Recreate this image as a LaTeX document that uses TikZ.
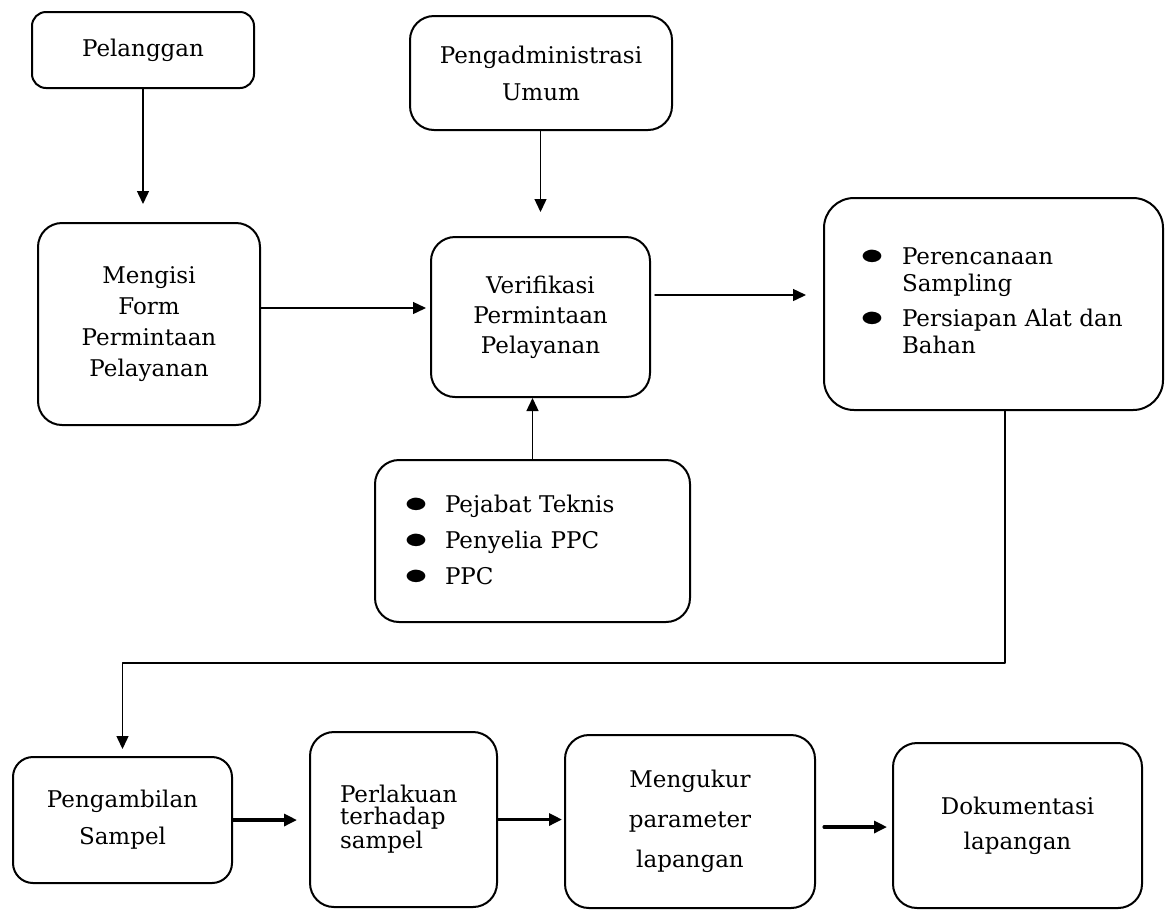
\documentclass[tikz,border=0pt]{standalone}
\usepackage{fontspec}
\setmainfont{DejaVu Serif}
\usepackage{graphicx}
\usetikzlibrary{arrows.meta}
\newcommand{\blt}{\scalebox{2.0}[1.35]{$\bullet$}}
\tikzset{
	kotak/.style={draw, line width=1pt, rounded corners=12pt, align=center, inner sep=0pt},
	daftar/.style={kotak, align=left},
}
\begin{document}
\begin{tikzpicture}[x=0.5pt, y=-0.5pt, >={Triangle[length=6.5pt,width=6pt]}, font=\fontsize{11.5}{15}\selectfont, line join=round, line cap=round]
	\def\tipis{0.7pt} \def\tebal{1.6pt} % tebal garis panah
	\useasboundingbox (0,0) rectangle (1165,911);
	
	% baris atas
	\node[kotak, rounded corners=7pt, minimum width=111pt, minimum height=38pt] (pel) at (143,50) {Pelanggan};
	\node[kotak, minimum width=131pt, minimum height=57pt, font=\fontsize{11.5}{18.5}\selectfont] (adm) at (541,73) {Pengadministrasi\\Umum};
	\node[kotak, minimum width=111pt, minimum height=101pt, font=\fontsize{11.5}{15.5}\selectfont] (isi) at (149,324) {Mengisi\\Form\\Permintaan\\Pelayanan};
	\node[kotak, minimum width=109.5pt, minimum height=80pt] (ver) at (540.5,317) {Verifikasi\\Permintaan\\Pelayanan};
	\node[daftar, rounded corners=15pt, minimum width=169.5pt, minimum height=106pt, text width=133.5pt, inner xsep=16pt, font=\fontsize{11.5}{13.5}\selectfont] (per) at (993.5,304)
		{\begin{tabular}{@{}l@{\hspace{9pt}}l@{}}
			\blt & Perencanaan\\ & Sampling\\[4pt]
			\blt & Persiapan Alat dan\\ & Bahan
		\end{tabular}};
	\node[daftar, minimum width=157.5pt, minimum height=81pt, text width=128.5pt, inner xsep=13pt, font=\fontsize{11.5}{18}\selectfont] (pjb) at (532.5,541)
		{\begin{tabular}{@{}l@{\hspace{8.5pt}}l@{}}
			\blt & Pejabat Teknis\\
			\blt & Penyelia PPC\\
			\blt & PPC
		\end{tabular}};
	
	% baris bawah
	\node[kotak, rounded corners=10pt, minimum width=109.5pt, minimum height=63pt, font=\fontsize{11.5}{18.5}\selectfont] (amb) at (122.5,820) {Pengambilan\\Sampel};
	\node[daftar, minimum width=93.5pt, minimum height=87.5pt, text width=63.5pt, inner xsep=15pt, font=\fontsize{11.5}{11}\selectfont] (prl) at (403.5,819.5) {Perlakuan\\terhadap\\sampel\\[8pt]};
	\node[kotak, minimum width=125pt, minimum height=86.5pt, font=\fontsize{11.5}{20}\selectfont] (ukr) at (690,821.5) {Mengukur\\parameter\\lapangan};
	\node[kotak, minimum width=124.5pt, minimum height=82.5pt, font=\fontsize{11.5}{17.5}\selectfont] (dok) at (1017.5,825.5) {Dokumentasi\\lapangan};
	
	\draw[->, line width=\tipis, shorten >=9pt] (pel.south) -- (pel.south |- isi.north);
	\draw[->, line width=\tipis, shorten >=12pt] (ver.north |- adm.south) -- (ver.north);
	\draw[->, line width=\tipis, shorten >=2pt] ([yshift=8pt]isi.east) -- ([yshift=8pt]isi.east -| ver.west);
	\draw[->, line width=\tipis, shorten <=2pt, shorten >=8.5pt] ([yshift=11pt]ver.east) -- ([yshift=11pt]ver.east -| per.west);
	\draw[->, line width=\tipis] (pjb.north) -- (pjb.north |- ver.south);
	\coordinate (siku) at (1005,663);
	\draw[->, line width=\tipis, shorten >=3.5pt] (per.south -| siku) -- (siku) -| (amb.north);
	
	\draw[->, line width=\tebal, shorten >=6pt] (amb.east) -- (amb.east -| prl.west);
	\draw[->, line width=\tebal, shorten >=1pt] (prl.east) -- (prl.east -| ukr.west);
	\draw[->, line width=\tebal, shorten <=4pt, shorten >=2.5pt] ([yshift=-2.75pt]ukr.east) -- ([yshift=-2.75pt]ukr.east -| dok.west);
\end{tikzpicture}
\end{document}
